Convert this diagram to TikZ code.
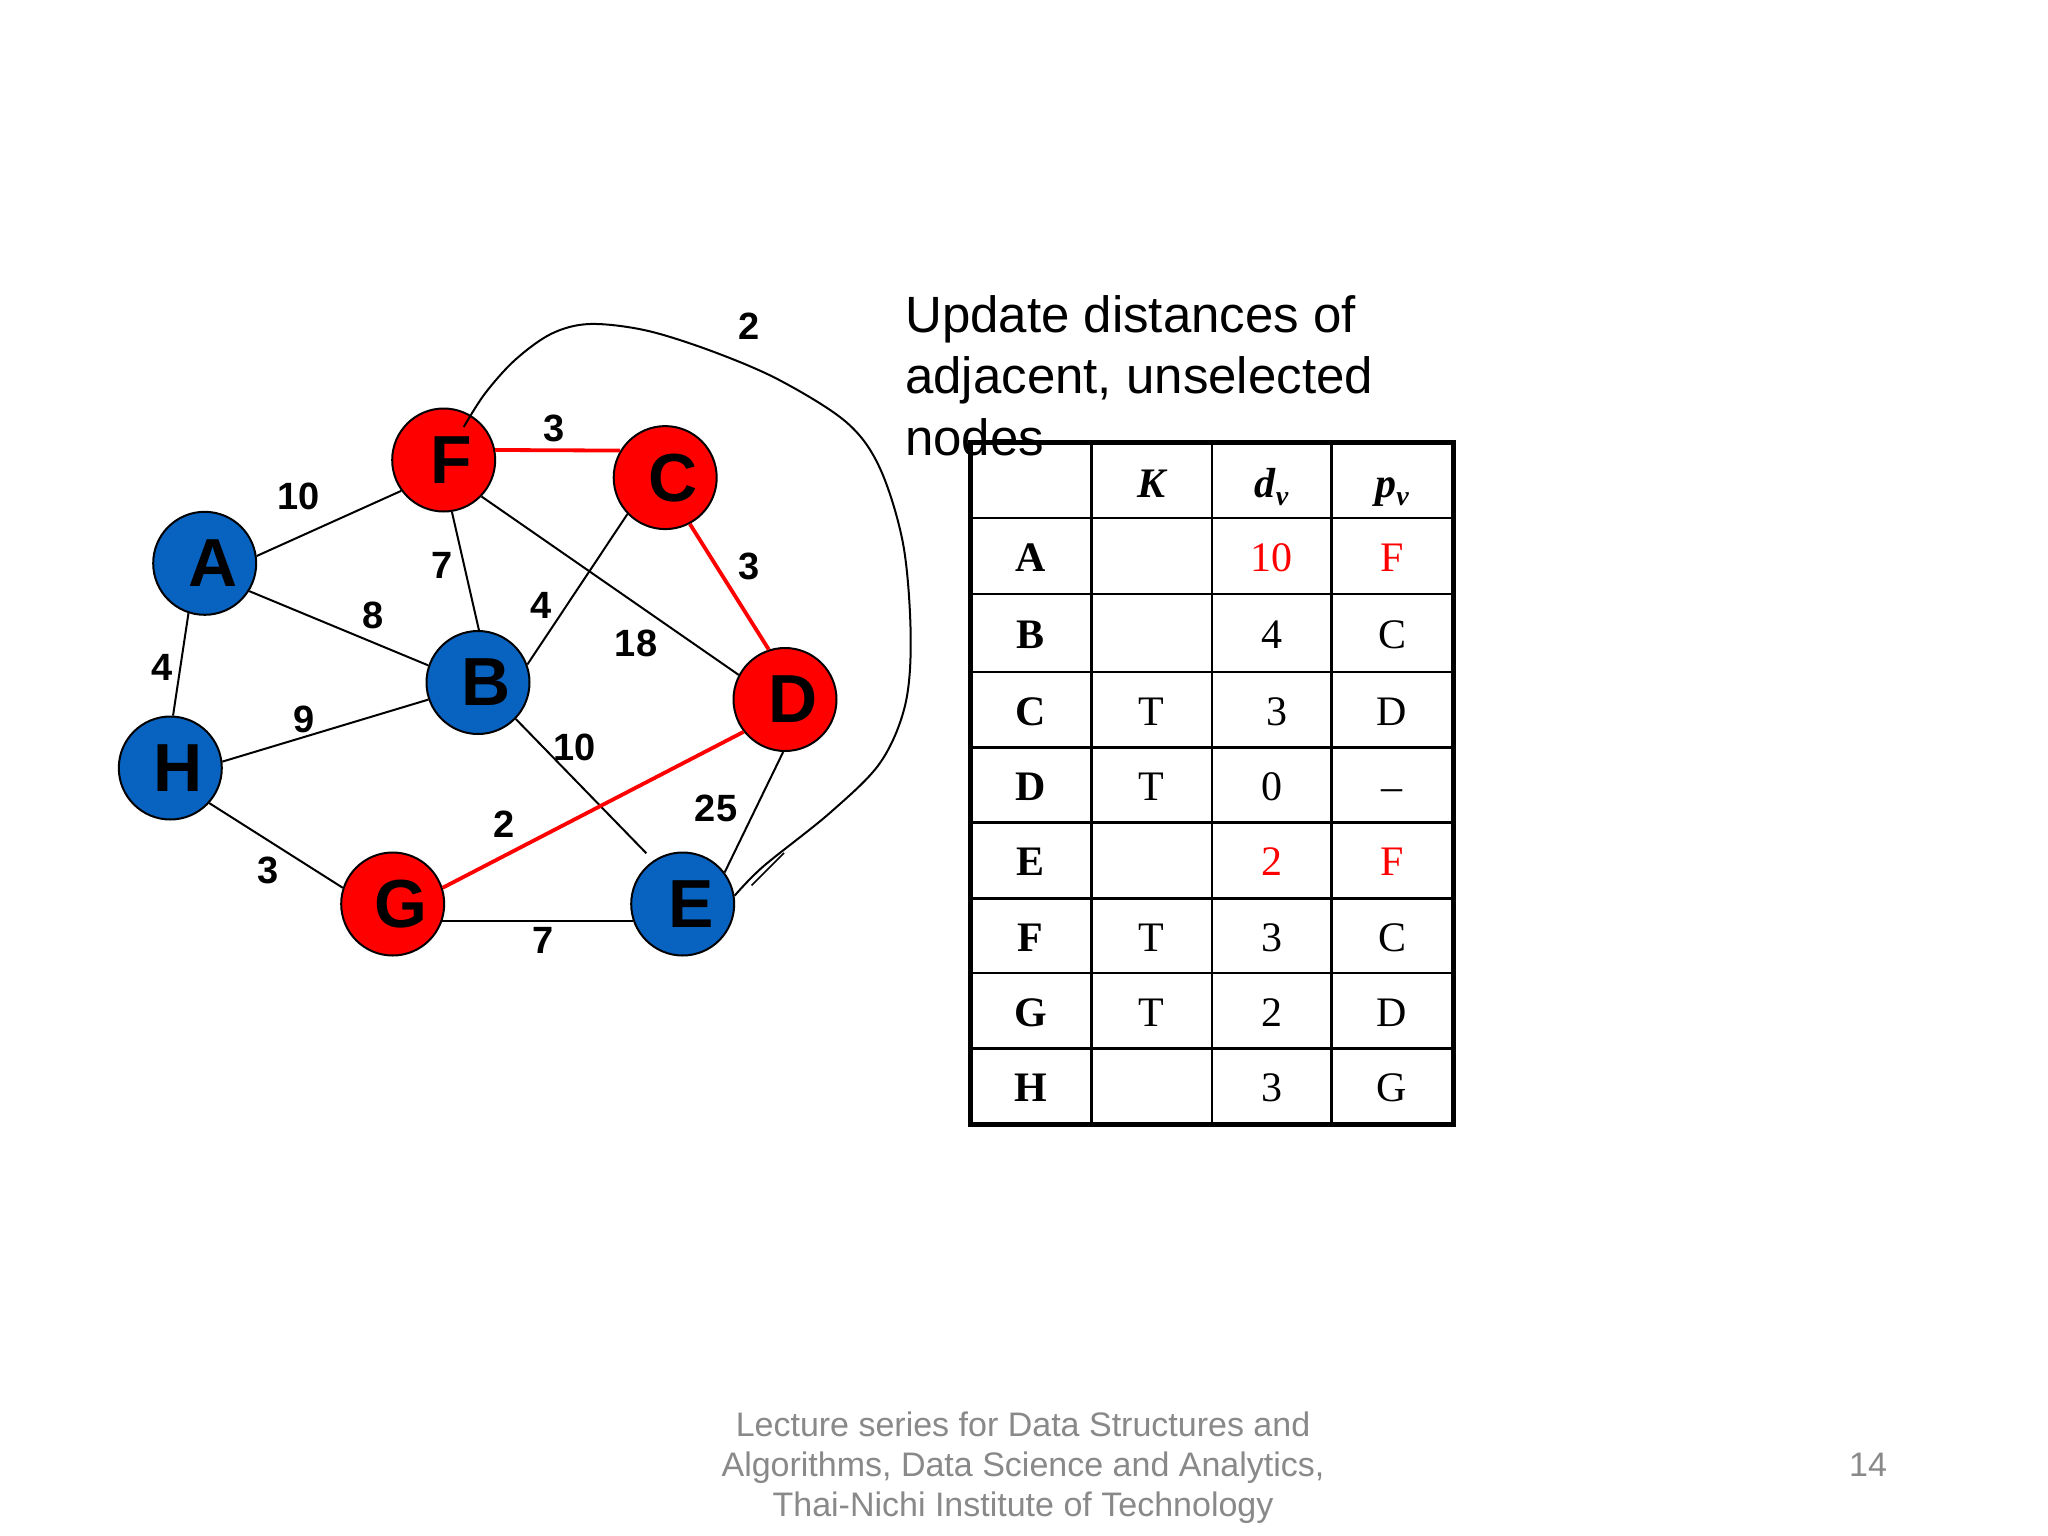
\documentclass[tikz,border=0pt]{standalone}
\usepackage{fontspec}
\setmainfont{Liberation Serif}
\newfontfamily\arialfont{Liberation Sans}
\usetikzlibrary{calc}
\definecolor{nodered}{RGB}{255,0,0}
\definecolor{nodeblue}{RGB}{8,98,191}
\definecolor{footgray}{RGB}{137,137,137}
\newcommand{\vlab}[1]{\hspace*{16pt}\raisebox{-2pt}{#1}}
\begin{document}
\begin{tikzpicture}[x=1pt,y=-1pt,
  vtx/.style={circle,draw=black,line width=2pt,minimum size=103pt,inner sep=0pt,
    font=\arialfont\bfseries\fontsize{68}{68}\selectfont},
  redv/.style={vtx,fill=nodered},
  bluev/.style={vtx,fill=nodeblue},
  edge/.style={line width=2pt,draw=black},
  redge/.style={line width=3.8pt,draw=nodered},
  wt/.style={font=\arialfont\bfseries\fontsize{38}{38}\selectfont,inner sep=0pt},
  ttl/.style={font=\arialfont\fontsize{51}{60}\selectfont,inner sep=0pt,anchor=base west},
  tgrid/.style={line width=2.5pt,draw=black},
  tframe/.style={line width=5pt,draw=black},
  tcell/.style={font=\fontsize{42}{42}\selectfont,inner sep=0pt,anchor=base},
  thead/.style={tcell,font=\fontsize{42}{42}\selectfont\bfseries\itshape},
  trow/.style={tcell,font=\fontsize{42}{42}\selectfont\bfseries},
  foot/.style={font=\arialfont\fontsize{34}{40}\selectfont,text=footgray,inner sep=0pt,anchor=base}
]
\useasboundingbox (0,0) rectangle (2048,1536);
\fill[white] (0,0) rectangle (2048,1536);

% vertices
\node[bluev] (A) at (204.7,563.3) {\vlab{A}};
\node[bluev] (B) at (478,682.5) {\vlab{B}};
\node[redv]  (C) at (665.2,477.6) {\vlab{C}};
\node[redv]  (D) at (785,699.5) {\vlab{D}};
\node[bluev] (E) at (682.7,904) {\vlab{E}};
\node[redv]  (F) at (443.7,460) {\vlab{F}};
\node[redv]  (G) at (392.7,904) {\vlab{G}};
\node[bluev] (H) at (170.3,768) {\vlab{H}};

% edges
\draw[edge] (A.8) -- (F.216);
\draw[edge] (A.-32) -- (B.161);
\draw[edge] (A.-108) -- (H.87);
\draw[edge] (H.7) -- (B.199);
\draw[edge] (H.-42) -- (G.162);
\draw[edge] (F.-81) -- (B.89);
\draw[edge] (F.-44) -- (D.152);
\draw[edge] (C.224) -- (B.20);
\draw[edge,shorten >=10pt] (B.-44) -- (E.124);
\draw[edge] (D.268) -- (E.37);
\draw[edge] (G.-19) -- (E.199);
\draw[redge] (F.11) -- (C.149);
\draw[redge] (C.-62) -- (D.108);
\draw[redge] (D.218) -- (G.18);
\draw[edge] plot[smooth,tension=0.55] coordinates {($(F)+(20,-33)$) (485,393.5) (515,360) (551.5,333.7) (590,324) (646.7,330.6) (713.3,351.7) (780,380.4) (846.7,422.5) (880,468.4) (903.3,545) (910.7,636.8) (905,705.7) (880,763) (830,812.8) (763.3,866.4) (E.9)};
\coordinate (tk1) at (751.5,885.5);
\coordinate (tk2) at (784,853);
\draw[line width=1.5pt] (tk1) -- (tk2);

% weights
\node[wt] (w1) at (749,326) {2};
\node[wt] (w2) at (554,428) {3};
\node[wt] (w3) at (299,496) {10};
\node[wt] (w4) at (442,565) {7};
\node[wt] (w5) at (749,566) {3};
\node[wt] (w6) at (373,615) {8};
\node[wt] (w7) at (541,605) {4};
\node[wt] (w8) at (636,643) {18};
\node[wt] (w9) at (162.5,667) {4};
\node[wt] (w10) at (304.5,719.5) {9};
\node[wt] (w11) at (574.5,747) {10};
\node[wt] (w12) at (716,808.5) {25};
\node[wt] (w13) at (504.5,824) {2};
\node[wt] (w14) at (268.5,870.5) {3};
\node[wt] (w15) at (543,940) {7};

% title
\node[ttl] (t1) at (905,332) {Update distances of};
\node[ttl] (t2) at (905,393.5) {adjacent, unselected};
\node[ttl] (t3) at (905,455) {nodes};

% table grid
\foreach \x in {1091.4,1211.9,1331.3} \draw[tgrid] (\x,442.8) -- (\x,1124);
\foreach \y in {518,593.8,671.8,747.5,822.7,898.5,973,1048.3} \draw[tgrid] (970,\y) -- (1453,\y);
\draw[tframe] (970,442.8) rectangle (1453,1124);

% header
\node[thead] (hK) at (1151.6,497) {K};
\node[thead] (hd) at (1271.6,497) {d\raisebox{-8pt}{\fontsize{28}{28}\selectfont v}};
\node[thead] (hp) at (1392,497) {p\raisebox{-8pt}{\fontsize{28}{28}\selectfont v}};

% rows
\node[trow] (rA) at (1030.7,571) {A};
\node[tcell,text=nodered] (dA) at (1271.6,571) {10};
\node[tcell,text=nodered] (pA) at (1392,571) {F};

\node[trow] (rB) at (1030.7,648) {B};
\node[tcell] (dB) at (1271.6,648) {4};
\node[tcell] (pB) at (1392,648) {C};

\node[trow] (rC) at (1030.7,725) {C};
\node[tcell] (kC) at (1151.6,725) {T};
\node[tcell] (dC) at (1276.6,725) {3};
\node[tcell] (pC) at (1392,725) {D};

\node[trow] (rD) at (1030.7,800) {D};
\node[tcell] (kD) at (1151.6,800) {T};
\node[tcell] (dD) at (1271.6,800) {0};
\node[tcell] (pD) at (1392,800) {–};

\node[trow] (rE) at (1030.7,875.6) {E};
\node[tcell,text=nodered] (dE) at (1271.6,875.6) {2};
\node[tcell,text=nodered] (pE) at (1392,875.6) {F};

\node[trow] (rF) at (1030.7,951) {F};
\node[tcell] (kF) at (1151.6,951) {T};
\node[tcell] (dF) at (1271.6,951) {3};
\node[tcell] (pF) at (1392,951) {C};

\node[trow] (rG) at (1030.7,1026) {G};
\node[tcell] (kG) at (1151.6,1026) {T};
\node[tcell] (dG) at (1271.6,1026) {2};
\node[tcell] (pG) at (1392,1026) {D};

\node[trow] (rH) at (1030.7,1101) {H};
\node[tcell] (dH) at (1271.6,1101) {3};
\node[tcell] (pH) at (1392,1101) {G};

% footer
\node[foot] (f1) at (1023,1436) {Lecture series for Data Structures and};
\node[foot] (f2) at (1023,1476) {Algorithms, Data Science and Analytics,};
\node[foot] (f3) at (1023,1516.5) {Thai-Nichi Institute of Technology};
\node[foot] (pg) at (1868,1476.7) {14};
\end{tikzpicture}
\end{document}
